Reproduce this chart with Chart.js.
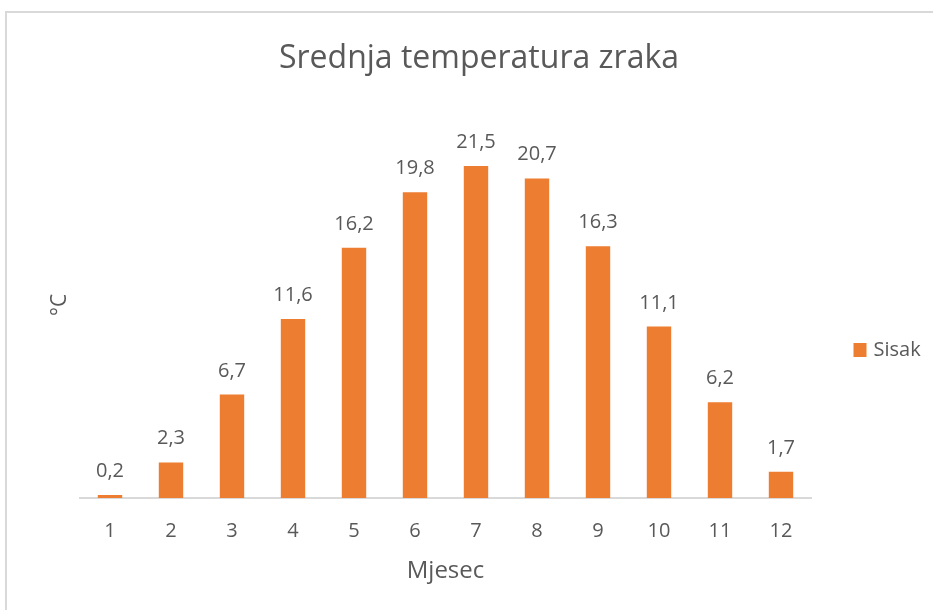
<!DOCTYPE html>
<html lang="hr">
<head>
    <meta charset="UTF-8">
    <title>Srednja temperatura zraka</title>
    <script src="https://cdn.jsdelivr.net/npm/chart.js@4.4.0/dist/chart.umd.min.js"></script>
    <style>
        html, body { margin: 0; padding: 0; overflow: hidden; background: #fff; }
        #frame {
            position: absolute; left: 5px; top: 11px;
            width: 2000px; height: 2000px;
            border-left: 2px solid #d9d9d9; border-top: 2px solid #d9d9d9;
        }
        #chart { position: absolute; left: 0; top: 0; }
    </style>
</head>
<body>
    <div id="frame"></div>
    <canvas id="chart" width="958" height="610"></canvas>
    <script>

const months = ['1', '2', '3', '4', '5', '6', '7', '8', '9', '10', '11', '12'];
const sisak = [0.2, 2.3, 6.7, 11.6, 16.2, 19.8, 21.5, 20.7, 16.3, 11.1, 6.2, 1.7];
const seriesName = 'Sisak';

const FONT = "'Open Sans', sans-serif";
const GREY = '#595959';
const ORANGE = '#ED7D31';

// value labels above each bar, Croatian decimal comma
const barLabels = {
    id: 'barLabels',
    afterDatasetsDraw(chart) {
        const ctx = chart.ctx;
        const meta = chart.getDatasetMeta(0);
        ctx.save();
        ctx.font = '20px ' + FONT;
        ctx.fillStyle = GREY;
        ctx.textAlign = 'center';
        ctx.textBaseline = 'alphabetic';
        meta.data.forEach((bar, i) => {
            const txt = chart.data.datasets[0].data[i].toFixed(1).replace('.', ',');
            ctx.fillText(txt, bar.x, bar.y - 18);
        });
        ctx.restore();
    }
};

// legend sits to the right, a bit below the middle (like Excel)
const sideLegend = {
    id: 'sideLegend',
    afterDraw(chart) {
        const ctx = chart.ctx;
        const area = chart.chartArea;
        const ds = chart.data.datasets[0];
        const x = area.right + 42;
        const y = (area.top + area.bottom) / 2 + 45;
        ctx.save();
        ctx.fillStyle = ds.backgroundColor;
        ctx.fillRect(x, y - 7, 13, 14);
        ctx.font = '20px ' + FONT;
        ctx.fillStyle = GREY;
        ctx.textAlign = 'left';
        ctx.textBaseline = 'middle';
        ctx.fillText(ds.label, x + 20, y);
        ctx.restore();
    }
};

const ctx = document.getElementById('chart').getContext('2d');
new Chart(ctx, {
    type: 'bar',
    data: {
        labels: months,
        datasets: [{
            label: seriesName,
            data: sisak,
            backgroundColor: ORANGE,
            borderWidth: 0,
            categoryPercentage: 0.4,
            barPercentage: 1
        }]
    },
    options: {
        responsive: false,
        animation: false,
        layout: { padding: 0 },
        plugins: {
            legend: { display: false },
            tooltip: { enabled: false },
            title: {
                display: true,
                text: 'Srednja temperatura zraka',
                color: GREY,
                font: { family: FONT, size: 32, weight: 'normal' },
                padding: { top: 40, bottom: 33.6 }
            }
        },
        scales: {
            x: {
                grid: { display: true, drawOnChartArea: false, drawTicks: false },
                border: { display: true, color: '#d9d9d9', width: 2 },
                ticks: { color: GREY, font: { family: FONT, size: 20 }, padding: 21, maxRotation: 0 },
                title: {
                    display: true,
                    text: 'Mjesec',
                    color: GREY,
                    font: { family: FONT, size: 24 },
                    padding: { top: 0, bottom: 24 }
                },
                afterFit(scale) { scale.height = 112; }
            },
            y: {
                min: 0,
                max: 25,
                grid: { display: false },
                border: { display: false },
                ticks: { display: false },
                title: {
                    display: true,
                    text: '°C',
                    color: GREY,
                    font: { family: FONT, size: 21 },
                    padding: { top: 47, bottom: 0 }
                },
                afterFit(scale) { scale.width = 79.5; }
            },
            // empty right-hand strip that holds the legend
            legendSpace: {
                type: 'linear',
                position: 'right',
                grid: { display: false },
                border: { display: false },
                ticks: { display: false },
                afterFit(scale) { scale.width = 146.5; }
            }
        }
    },
    plugins: [barLabels, sideLegend]
});
    </script>
</body>
</html>
